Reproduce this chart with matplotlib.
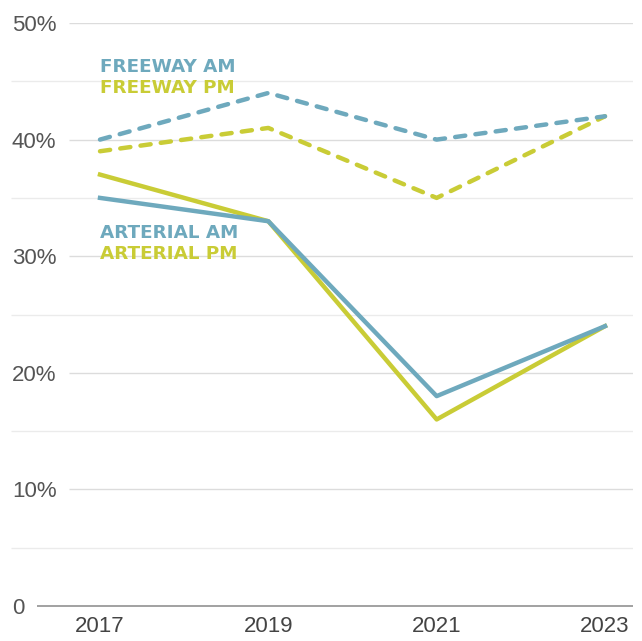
import matplotlib
matplotlib.use("Agg")
import matplotlib.pyplot as plt

years = [2017, 2019, 2021, 2023]
freeway_am = [40, 44, 40, 42]
freeway_pm = [39, 41, 35, 42]
arterial_am = [35, 33, 18, 24]
arterial_pm = [37, 33, 16, 24]

major_ticks = [0, 10, 20, 30, 40, 50]
major_labels = ["0", "10%", "20%", "30%", "40%", "50%"]
minor_ticks = [5, 15, 25, 35, 45]

TEAL = "#6ea9bd"
YELLOW = "#c9cc36"

W, H = 642, 641
fig = plt.figure(figsize=(W / 100, H / 100), dpi=100)
left, right = 11, 633
top, bottom = 23, 606
ax = fig.add_axes([left / W, 1 - bottom / H, (right - left) / W, (bottom - top) / H])

px_per_year = (605 - 100) / 6
ax.set_xlim(2017 - (100 - left) / px_per_year, 2023 + (right - 605) / px_per_year)
ax.set_ylim(0, 50)

for s in ax.spines.values():
    s.set_visible(False)

yt = ax.get_yaxis_transform()
ax.hlines(minor_ticks, 0, 1, transform=yt, color="#ebebeb", lw=1.0, zorder=1)
ax.hlines(major_ticks[1:], (69 - left) / (right - left), 1, transform=yt, color="#dcdcdc", lw=1.0, zorder=1)
ax.hlines([0], (37 - left) / (right - left), 1, transform=yt, color="#9a9a9a", lw=1.3, zorder=1, clip_on=False)

lw = 3.2
ax.plot(years, arterial_pm, color=YELLOW, lw=lw, solid_joinstyle="round", zorder=3, clip_on=False)
ax.plot(years, arterial_am, color=TEAL, lw=lw, solid_joinstyle="round", zorder=4, clip_on=False)
ax.plot(years, freeway_pm, color=YELLOW, lw=lw, dashes=(2.3, 2.3), dash_capstyle="round", zorder=3, clip_on=False)
ax.plot(years, freeway_am, color=TEAL, lw=lw, dashes=(2.3, 2.3), dash_capstyle="round", zorder=4, clip_on=False)

ax.set_yticks(major_ticks)
ax.set_yticklabels(major_labels)
ax.tick_params(axis="y", length=0, pad=-0.7, labelsize=16, labelcolor="#555555")
for t in ax.get_yticklabels():
    t.set_horizontalalignment("left")
    t.set_fontfamily("Liberation Sans")

ax.set_xticks(years)
ax.set_xticklabels([str(y) for y in years])
ax.tick_params(axis="x", length=0, pad=7.5, labelsize=16, labelcolor="#444444")
for t in ax.get_xticklabels():
    t.set_fontfamily("Liberation Sans")

lab_kw = dict(fontsize=13.2, fontweight="bold", family="DejaVu Sans", ha="left", va="center", zorder=5)
ax.text(2017, 46.2, "FREEWAY AM", color=TEAL, **lab_kw)
ax.text(2017, 44.4, "FREEWAY PM", color=YELLOW, **lab_kw)
ax.text(2017, 32.0, "ARTERIAL AM", color=TEAL, **lab_kw)
ax.text(2017, 30.2, "ARTERIAL PM", color=YELLOW, **lab_kw)

fig.savefig("out.png", dpi=100)
